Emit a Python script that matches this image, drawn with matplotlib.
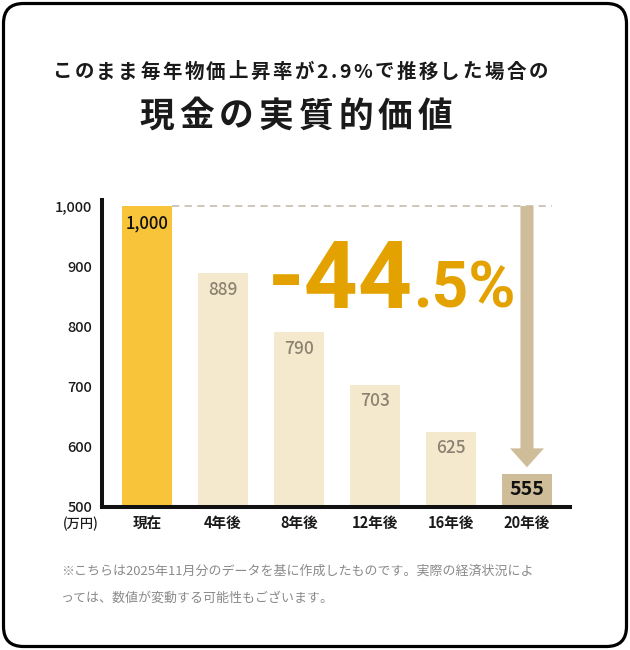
import matplotlib
matplotlib.use('Agg')
import matplotlib.pyplot as plt
import matplotlib.patches as mpatches

plt.rcParams['font.family'] = ['Noto Sans CJK JP', 'DejaVu Sans']

# data
periods = ['現在', '4年後', '8年後', '12年後', '16年後', '20年後']
values = [1000, 889, 790, 703, 625, 555]
value_labels = ['1,000', '889', '790', '703', '625', '555']
yticks = [500, 600, 700, 800, 900, 1000]
ytick_labels = ['500', '600', '700', '800', '900', '1,000']
drop_big = '-44'
drop_small = '.5%'

W, H = 630, 650
fig = plt.figure(figsize=(W / 100, H / 100), dpi=100)
fig.patch.set_facecolor('white')

# rounded frame around everything
frame = mpatches.FancyBboxPatch((0.035, 0.035), W / 100 - 0.07, H / 100 - 0.07,
                                boxstyle='round,pad=0,rounding_size=0.2',
                                transform=fig.dpi_scale_trans,
                                fc='none', ec='black', lw=2.3, zorder=-1)
fig.patches.append(frame)


def spaced(s, xc, y, size, spacing, **kw):
    # draw text char by char with extra letter spacing (px)
    r = fig.canvas.get_renderer()
    widths = []
    for ch in s:
        t = fig.text(0, 0, ch, fontsize=size, **kw)
        widths.append(t.get_window_extent(r).width)
        t.remove()
    total = sum(widths) + spacing * (len(s) - 1)
    x = xc - total / 2
    for ch, w in zip(s, widths):
        fig.text(x / W, 1 - y / H, ch, fontsize=size, ha='left', va='center', **kw)
        x += w + spacing


spaced('このまま毎年物価上昇率が2.9%で推移した場合の', 300, 72, 14, 2.5,
       fontweight='bold', color='#1a1a1a')
spaced('現金の実質的価値', 296, 116, 25, 5,
       fontweight='bold', color='#1a1a1a')

# axes placed to match the reference
x_left, x_right = 102, 570
y_top, y_bot = 200, 507
ax = fig.add_axes([x_left / W, 1 - y_bot / H, (x_right - x_left) / W, (y_bot - y_top) / H])
ax.set_xlim(-0.592, 5.566)
ax.set_ylim(500, 1010)

colors = ['#f8c43a'] + ['#f5e9cd'] * 4 + ['#cfbd99']
xs = range(len(values))
ax.bar(xs, [v - 500 for v in values], bottom=500, width=0.658, color=colors, zorder=2)

for i, (v, lab) in enumerate(zip(values, value_labels)):
    if i == 0:
        ax.annotate(lab, (i, v), xytext=(0, -12.5), textcoords='offset points',
                    ha='center', va='center', fontsize=12, color='#111111',
                    fontweight='medium', zorder=4)
    elif i == len(values) - 1:
        ax.annotate(lab, (i, v), xytext=(0, -11), textcoords='offset points',
                    ha='center', va='center', fontsize=14, color='#111111',
                    fontweight='bold', zorder=4)
    else:
        ax.annotate(lab, (i, v), xytext=(0, -12), textcoords='offset points',
                    ha='center', va='center', fontsize=12.5, color='#8b8272',
                    fontweight='medium', zorder=4)

# dashed reference line at the starting value
ax.hlines(values[0], 0 + 0.33, len(values) - 1 + 0.33, colors='#c9c2b3',
          linestyles=(0, (4, 3)), lw=1.3, zorder=1)

# arrow from start value down to the last bar
last = len(values) - 1
ax.annotate('', xy=(last, values[-1] + 11), xytext=(last, values[0]),
            arrowprops=dict(arrowstyle='simple,head_length=0.68,head_width=1.22,tail_width=0.47',
                            mutation_scale=20, color='#cfbd99', shrinkA=0, shrinkB=0,
                            lw=0),
            zorder=3)

ax.set_yticks(yticks)
ax.set_yticklabels(ytick_labels, fontweight='medium')
ax.set_xticks(list(xs))
ax.set_xticklabels(periods, fontweight='bold')
ax.tick_params(axis='both', length=0, labelcolor='#1a1a1a')
ax.tick_params(axis='y', pad=7, labelsize=10.5)
ax.tick_params(axis='x', pad=6, labelsize=10.5)
for s in ['top', 'right']:
    ax.spines[s].set_visible(False)
for s in ['left', 'bottom']:
    ax.spines[s].set_linewidth(2.9)
    ax.spines[s].set_color('#111111')
    ax.spines[s].set_capstyle('projecting')
ax.set_facecolor('none')

fig.text(81 / W, 1 - 524 / H, '(万円)', ha='center', va='center', fontsize=9.5,
         color='#1a1a1a', fontweight='medium')

# big drop percentage
big = dict(fontweight='bold', color='#e3a200', family='Roboto')
fig.text(413 / W, 1 - 308 / H, drop_big, ha='right', va='baseline', fontsize=68, **big)
fig.text(413 / W, 1 - 308 / H, drop_small, ha='left', va='baseline', fontsize=46, **big)

# footnote
fig.text(61 / W, 1 - 571 / H, '※こちらは2025年11月分のデータを基に作成したものです。実際の経済状況によ',
         ha='left', va='center', fontsize=9.35, color='#8a8a8a')
fig.text(61 / W, 1 - 598 / H, 'っては、数値が変動する可能性もございます。',
         ha='left', va='center', fontsize=9.35, color='#8a8a8a')

fig.savefig('out.png', dpi=100)
